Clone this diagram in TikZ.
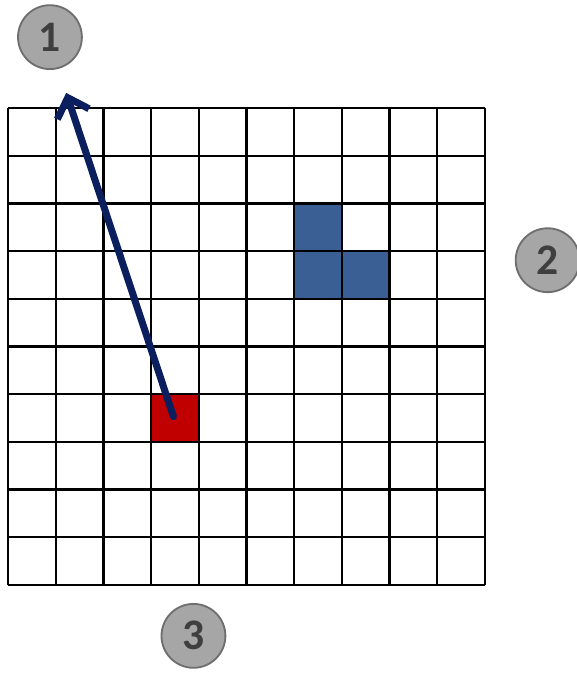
\documentclass[tikz,border=0pt]{standalone}
\usepackage{fontspec}
\setmainfont{Carlito}
\usetikzlibrary{arrows.meta}
\definecolor{cellblue}{HTML}{3A5F95}
\definecolor{cellred}{HTML}{C00000}
\definecolor{arrownavy}{HTML}{0B1F5E}
\definecolor{badgefill}{HTML}{A6A6A6}
\definecolor{badgeline}{HTML}{6E6E6E}
\definecolor{badgetext}{HTML}{3F3F3F}

\begin{document}
\begin{tikzpicture}[x=1cm,y=1cm,
  gridline/.style={black, line width=1.4pt},
  badge/.style={circle, fill=badgefill, draw=badgeline, line width=1.1pt,
    minimum size=1.34cm, inner sep=0pt, text=badgetext,
    font=\fontsize{26}{26}\selectfont\bfseries},
  move/.style={arrownavy, line width=4.2pt, line cap=round,
    -{Straight Barb[length=3.6mm, width=7mm, line width=4.2pt]}}]
  \useasboundingbox (-0.168,-1.891) rectangle (11.933,12.269);
  \fill [cellblue] (6,7) rectangle (7,8);
  \fill [cellblue] (6,6) rectangle (7,7);
  \fill [cellblue] (7,6) rectangle (8,7);
  \fill [cellred]  (3,3) rectangle (4,4);
  \draw [gridline] (0,0) grid (10,10);
  \node [badge] (c1) at (0.88,11.49) {1};
  \node [badge] (c2) at (11.32,6.81) {2};
  \node [badge] (c3) at (3.89,-1.07) {3};
  \coordinate (start) at (3.47,3.53);
  \coordinate (tip) at (1.22,10.32);
  \draw [move] (start) -- (tip);
\end{tikzpicture}
\end{document}
